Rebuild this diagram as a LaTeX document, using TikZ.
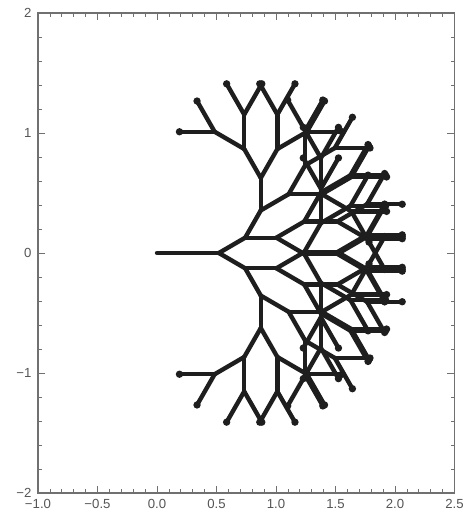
\documentclass[tikz,border=0pt]{standalone}
\usepackage{fontspec}
\setsansfont{Liberation Sans}
\usepackage{xcolor}
\usepackage{tikz}
\definecolor{TreeInk}{HTML}{1E1E1E}
\definecolor{FrameInk}{HTML}{707070}
\definecolor{LabelInk}{HTML}{555555}
\newcommand{\TreeGrowth}{1.03}
\newcommand{\TreeBranch}[5]{%
  \ifnum#1>0
    \pgfmathsetmacro\TreeX{#2+#5*cos(#4)}%
    \pgfmathsetmacro\TreeY{#3+#5*sin(#4)}%
    \pgfmathsetmacro\TreeLen{#5*\TreeGrowth}%
    \draw[limb] (#2,#3) -- (\TreeX,\TreeY);%
    \ifnum#1=1 \fill[leaf] (\TreeX,\TreeY) circle[radius=2.1pt];\fi
    \edef\TreeNext{%
      \noexpand\TreeBranch{\the\numexpr#1-1\relax}{\TreeX}{\TreeY}{\the\numexpr#4+30\relax}{\TreeLen}%
      \noexpand\TreeBranch{\the\numexpr#1-1\relax}{\TreeX}{\TreeY}{\the\numexpr#4-30\relax}{\TreeLen}}%
    \TreeNext
  \fi}

\begin{document}
\begin{tikzpicture}[
  x=2.38cm,y=2.4cm,
  font=\sffamily,
  frameline/.style={draw=FrameInk,line width=0.6pt},
  tickmark/.style={draw=FrameInk,line width=0.4pt},
  ticklabel/.style={font=\sffamily\fontsize{7.5}{8}\selectfont,text=LabelInk,inner sep=0pt},
  limb/.style={draw=TreeInk,line width=2.5pt,line cap=round,line join=round},
  leaf/.style={fill=TreeInk},
]
  \useasboundingbox (-1.3193,-2.1583) rectangle (2.5630,2.1083);

  \draw[frameline] (-1,-2) rectangle (2.5,2);
  \foreach \i in {-10,...,25} {
    \draw[tickmark] (\i/10,-2) -- ++(0,2pt);
    \draw[tickmark] (\i/10,2) -- ++(0,-2pt);
  }
  \foreach \i in {-2,...,5} {
    \draw[tickmark] (\i/2,-2) -- ++(0,4pt);
    \draw[tickmark] (\i/2,2) -- ++(0,-4pt);
  }
  \foreach \j in {-10,...,10} {
    \draw[tickmark] (-1,\j/5) -- ++(2pt,0);
    \draw[tickmark] (2.5,\j/5) -- ++(-2pt,0);
  }
  \foreach \j in {-2,...,2} {
    \draw[tickmark] (-1,\j) -- ++(4pt,0);
    \draw[tickmark] (2.5,\j) -- ++(-4pt,0);
  }
  \foreach \tx/\lab in {-1/−1.0,-0.5/−0.5,0/0.0,0.5/0.5,1/1.0,1.5/1.5,2/2.0,2.5/2.5}
    \node[ticklabel,anchor=north] at ([yshift=-3.5pt]\tx,-2) {\lab};
  \foreach \ty/\lab in {-2/−2,-1/−1,0/0,1/1,2/2}
    \node[ticklabel,anchor=east] at ([xshift=-3.5pt]-1,\ty) {\lab};

  \draw[limb] (0,0) -- (0.52,0);
  \TreeBranch{6}{0.52}{0}{30}{0.255}
  \TreeBranch{6}{0.52}{0}{-30}{0.255}
\end{tikzpicture}
\end{document}
